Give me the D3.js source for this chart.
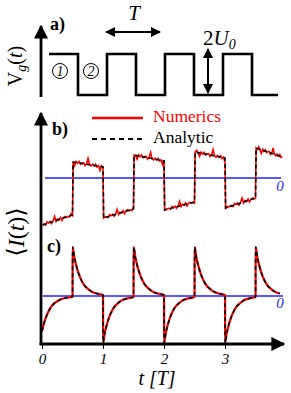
<!DOCTYPE html>
<html>
<head>
<meta charset="utf-8">
<script src="https://cdn.jsdelivr.net/npm/d3@7"></script>
<style>
  body { margin: 0; background: #fff; }
</style>
</head>
<body>
<div id="chart"></div>
<script>
// ---- data ----
var tTicks = [0, 1, 2, 3];
var gateLevels = [1, 0, 1, 0, 1, 0, 1, 0];          // Vg(t), one entry per half period
var currentStart = [-4.7, 1.6, -4.0, 2.3, -3.2, 2.6, -3.0, 3.0]; // panel b, start of each half period
var currentEnd   = [-3.7, 1.1, -3.1, 1.7, -2.4, 2.0, -2.0, 2.1]; // panel b, end of each half period
var spikePeak = [-0.72, 1, -0.95, 1, -0.95, 1, -0.95, 1];       // panel c, value right after each switch
var decayT = [0, 0.03, 0.06, 0.1, 0.15, 0.2, 0.25, 0.3, 0.4, 0.5]; // time after switch [T]
var decayV = [1, 0.79, 0.63, 0.46, 0.31, 0.21, 0.15, 0.10, 0.05, 0.02];
var numericsNoise = [0.05, -0.1, 0.15, 0.0, 0.1, -0.15, 0.05, 0.45, -0.1, 0.1,
  -0.05, 0.15, -0.2, 0.05, 0.1, -0.05, 0.0, -0.1, 0.2, -0.05,
  -0.35, 0.1, -0.05, 0.15, -0.1, 0.05, 0.1, -0.15, 0.05, 0.6,
  0.0, -0.1, 0.1, -0.05, 0.15, -0.1, 0.05, -0.4, 0.1, 0.0, 0.05];
var tEnd = 3.94;

var serif = "Liberation Serif, Times New Roman, DejaVu Serif, serif";
var width = 291, height = 393;
var svg = d3.select("#chart").append("svg").attr("width", width).attr("height", height)
  .attr("font-family", serif);

// arrow head
var defs = svg.append("defs");
defs.append("marker").attr("id", "arr").attr("viewBox", "0 0 10 10")
  .attr("refX", 9).attr("refY", 5).attr("markerWidth", 5).attr("markerHeight", 5)
  .attr("markerUnits", "strokeWidth").attr("orient", "auto-start-reverse")
  .append("path").attr("d", "M0,0 L10,5 L0,10 z").attr("fill", "#000");

// ---- panel a ----
var xa = d3.scaleLinear().domain([0, 4]).range([49, 281]);
var ya = d3.scaleLinear().domain([0, 1]).range([95, 54]);

var gatePts = [];
gateLevels.forEach(function(l, k){
  gatePts.push([k * 0.5, l]);
  gatePts.push([Math.min((k + 1) * 0.5, 3.95), l]);
});
svg.append("path").datum(gatePts)
  .attr("d", d3.line().x(function(d){ return xa(d[0]); }).y(function(d){ return ya(d[1]); }))
  .attr("fill", "none").attr("stroke", "#000").attr("stroke-width", 2.6);

// vertical axis arrow a
svg.append("line").attr("x1", 41).attr("x2", 41).attr("y1", 97).attr("y2", 26)
  .attr("stroke", "#000").attr("stroke-width", 2.8).attr("marker-end", "url(#arr)");

svg.append("text").attr("x", 50).attr("y", 30).attr("font-weight", "bold")
  .attr("font-size", 18).text("a)");

svg.append("text").attr("transform", "translate(22,66) rotate(-90)")
  .attr("text-anchor", "middle").attr("font-size", 20)
  .html('V<tspan font-style="italic" font-size="14" dy="4">g</tspan><tspan dy="-4">(</tspan><tspan font-style="italic">t</tspan>)');

// circled phases
[[60, 71, "1"], [91, 71, "2"]].forEach(function(c){
  svg.append("circle").attr("cx", c[0]).attr("cy", c[1]).attr("r", 7.5)
    .attr("fill", "none").attr("stroke", "#000").attr("stroke-width", 1);
  svg.append("text").attr("x", c[0]).attr("y", c[1] + 5).attr("text-anchor", "middle")
    .attr("font-size", 14).attr("font-style", "italic").text(c[2]);
});

// period arrow
svg.append("line").attr("x1", 106).attr("x2", 160).attr("y1", 32).attr("y2", 32)
  .attr("stroke", "#000").attr("stroke-width", 2)
  .attr("marker-start", "url(#arr)").attr("marker-end", "url(#arr)");
svg.append("text").attr("x", 134).attr("y", 20).attr("text-anchor", "middle")
  .attr("font-size", 21).attr("font-style", "italic").text("T");

// amplitude arrow
svg.append("line").attr("x1", 208).attr("x2", 208).attr("y1", 49).attr("y2", 93)
  .attr("stroke", "#000").attr("stroke-width", 2)
  .attr("marker-start", "url(#arr)").attr("marker-end", "url(#arr)");
svg.append("text").attr("x", 203).attr("y", 45).attr("font-size", 21)
  .html('2<tspan font-style="italic">U</tspan><tspan font-style="italic" font-size="14" dy="4">0</tspan>');

// ---- panels b and c ----
var x = d3.scaleLinear().domain([0, 1]).range([42, 103]);
var yb = d3.scaleLinear().domain([0, 1]).range([178, 168]);
var yc = d3.scaleLinear().domain([0, 1]).range([296, 247]);

// panel b series
var bAnalytic = [], bNumeric = [], ni = 0;
currentStart.forEach(function(s, k){
  var t0 = k * 0.5 + 0.01, t1 = Math.min((k + 1) * 0.5, tEnd), n = 20;
  for (var i = 0; i <= n; i++) {
    var t = t0 + (t1 - t0) * i / n;
    var v = s + (currentEnd[k] - s) * i / n;
    bAnalytic.push([t, v]);
    bNumeric.push([t, v + (i === 0 ? 0 : numericsNoise[ni++ % numericsNoise.length])]);
  }
});

// panel c series
var cSeries = [];
spikePeak.forEach(function(p, k){
  var t0 = k * 0.5;
  cSeries.push([t0 + 0.001, 0]);
  decayT.forEach(function(dt, i){
    var t = t0 + dt + (i === 0 ? 0.002 : 0);
    if (t <= tEnd + 0.01) cSeries.push([t, p * decayV[i]]);
  });
});
cSeries[0] = [0, spikePeak[0]];
cSeries.splice(1, 1);

var lineB = d3.line().x(function(d){ return x(d[0]); }).y(function(d){ return yb(d[1]); });
var lineC = d3.line().x(function(d){ return x(d[0]); }).y(function(d){ return yc(d[1]); })
  .curve(d3.curveMonotoneX);

// zero lines
[[yb(0), 45, 281, 191], [yc(0), 43, 283, 308]].forEach(function(z){
  svg.append("line").attr("x1", z[1]).attr("x2", z[2]).attr("y1", z[0]).attr("y2", z[0])
    .attr("stroke", "#1f1fff").attr("stroke-width", 1.6);
  svg.append("text").attr("x", 280).attr("y", z[3]).attr("text-anchor", "middle")
    .attr("font-size", 15).attr("font-style", "italic").attr("fill", "#1f1fff").text("0");
});

svg.append("path").datum(bNumeric).attr("d", lineB)
  .attr("fill", "none").attr("stroke", "#ff0000").attr("stroke-width", 1.6);
svg.append("path").datum(bAnalytic).attr("d", lineB)
  .attr("fill", "none").attr("stroke", "#000").attr("stroke-width", 1.6)
  .attr("stroke-dasharray", "4,3");

svg.append("path").datum(cSeries).attr("d", lineC)
  .attr("fill", "none").attr("stroke", "#ff0000").attr("stroke-width", 2.2);
svg.append("path").datum(cSeries).attr("d", lineC)
  .attr("fill", "none").attr("stroke", "#000").attr("stroke-width", 1.6)
  .attr("stroke-dasharray", "4,3");

// axes
var xAxis = d3.axisBottom(x).tickValues(tTicks).tickSize(5).tickFormat(d3.format("d"));
var gx = svg.append("g").attr("transform", "translate(0,344)").call(xAxis);
gx.attr("font-family", serif);
gx.select(".domain").remove();
gx.selectAll(".tick line").attr("stroke", "#000").attr("stroke-width", 1);
gx.selectAll(".tick text").attr("font-size", 15).attr("font-style", "italic")
  .attr("dy", "0.9em").attr("y", 6);

svg.append("line").attr("x1", 41).attr("x2", 41).attr("y1", 345).attr("y2", 113)
  .attr("stroke", "#000").attr("stroke-width", 2.8).attr("marker-end", "url(#arr)");
svg.append("line").attr("x1", 39.6).attr("x2", 284).attr("y1", 344).attr("y2", 344)
  .attr("stroke", "#000").attr("stroke-width", 2.8).attr("marker-end", "url(#arr)");

svg.append("text").attr("x", 157).attr("y", 385).attr("text-anchor", "middle")
  .attr("font-size", 20).attr("font-style", "italic").text("t [T]");

svg.append("text").attr("transform", "translate(24,232) rotate(-90)")
  .attr("text-anchor", "middle").attr("font-size", 24)
  .html('\u27E8<tspan font-style="italic">I</tspan>(<tspan font-style="italic">t</tspan>)\u27E9');

svg.append("text").attr("x", 52).attr("y", 135).attr("font-weight", "bold")
  .attr("font-size", 18).text("b)");
svg.append("text").attr("x", 47).attr("y", 252).attr("font-weight", "bold")
  .attr("font-size", 18).text("c)");

// legend
svg.append("line").attr("x1", 92).attr("x2", 143).attr("y1", 118).attr("y2", 118)
  .attr("stroke", "#ff0000").attr("stroke-width", 2.6);
svg.append("line").attr("x1", 92).attr("x2", 143).attr("y1", 139).attr("y2", 139)
  .attr("stroke", "#000").attr("stroke-width", 2.2).attr("stroke-dasharray", "5,4");
svg.append("text").attr("x", 153).attr("y", 122).attr("font-size", 17.5)
  .attr("fill", "#ff0000").text("Numerics");
svg.append("text").attr("x", 153).attr("y", 143).attr("font-size", 17.5).text("Analytic");
</script>
</body>
</html>
